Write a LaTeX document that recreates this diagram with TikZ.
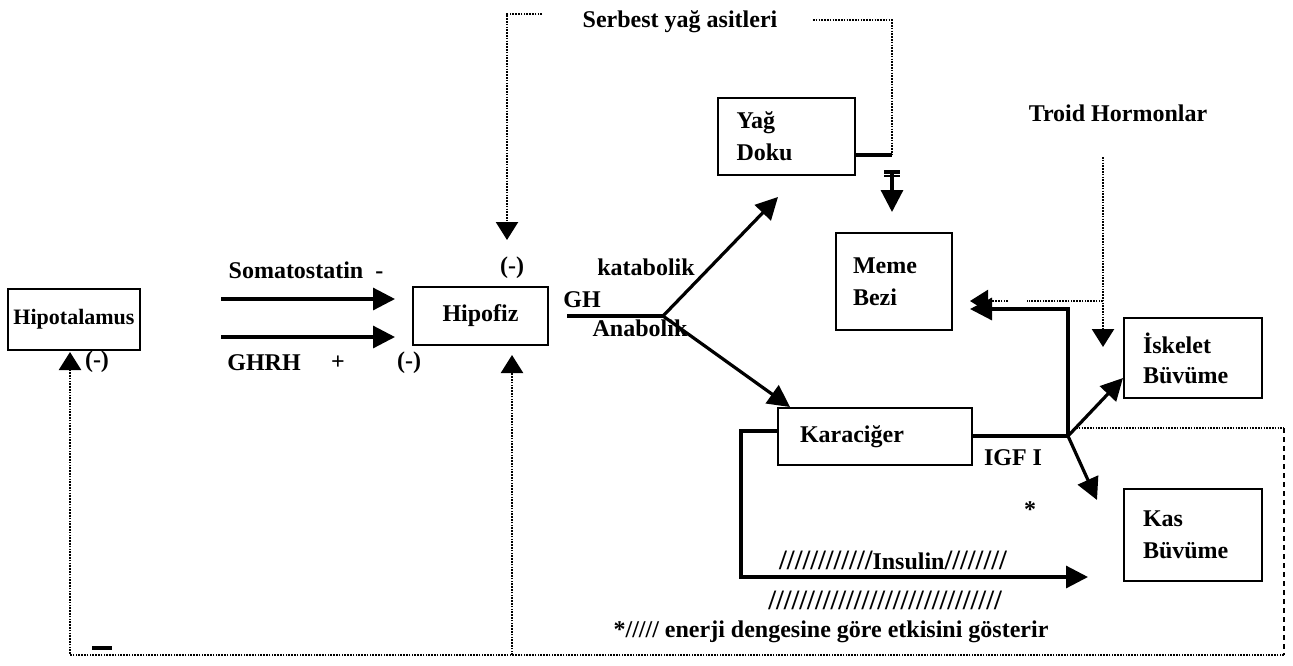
\documentclass[tikz,border=0pt]{standalone}
\usepackage{fontspec}
\setmainfont{Liberation Serif}
\usetikzlibrary{arrows.meta}
\begin{document}
\begin{tikzpicture}[x=1pt,y=-1pt,
  every node/.style={font=\fontsize{24}{26}\selectfont\bfseries, inner sep=0pt},
  box/.style={draw, line width=2.8pt, rectangle},
  box2/.style={draw, line width=2.8pt, rectangle, align=left},
  arr/.style={line width=3.2pt, -{Triangle[length=22pt,width=22pt]}},
  sline/.style={line width=3.2pt},
  dots/.style={line width=2.4pt, dash pattern=on 1.6pt off 1.2pt},
  dotarr/.style={line width=2.4pt, dash pattern=on 1.6pt off 1.2pt, -{Triangle[length=18pt,width=22pt]}},
  dashv/.style={line width=2.4pt, dash pattern=on 5pt off 4pt}]
\useasboundingbox (0,0) rectangle (1293,665);

% boxes
\node[box, minimum width=132pt, minimum height=61pt, font=\fontsize{22}{24}\selectfont\bfseries] (hipo) at (74,319.5) {Hipotalamus};
\node[box, minimum width=135pt, minimum height=58pt] (hipof) at (480.5,316) {Hipofiz};
\node[box2, minimum width=137pt, minimum height=77pt, text width=100pt] (yag) at (786.5,136.5) {Yağ\\[6pt]Doku};
\node[box2, minimum width=116pt, minimum height=97pt, text width=82pt] (meme) at (894,281.5) {Meme\\[6pt]Bezi};
\node[box2, minimum width=194pt, minimum height=57pt, text width=150pt] (kara) at (875,436.5) {Karaciğer};
\node[box2, minimum width=138pt, minimum height=80pt, text width=100pt] (isk) at (1193,358) {İskelet\\[4pt]Büvüme};
\node[box2, minimum width=138pt, minimum height=92pt, text width=100pt] (kas) at (1193,535) {Kas\\[6pt]Büvüme};

% labels
\node (somat) at (306,270) {Somatostatin\ \ -};
\node (ghrh) at (264,363) {GHRH};
\node (plus) at (338,363) {+};
\node (m1) at (409,363) {(-)};
\node (m2) at (97,362) {(-)};
\node (m3) at (512,268) {(-)};
\node (gh) at (582,300) {GH};
\node (kata) at (646,267) {katabolik};
\node (ana) at (640,328) {Anabolik};
\node (sya) at (680,22) {Serbest yağ asitleri};
\node (troid) at (1118,113) {Troid Hormonlar};
\node (igf) at (1013,458) {IGF I};
\node (star) at (1030,510) {*};
\node[font=\fontsize{28}{30}\selectfont\bfseries] (ins1) at (893,560) {////////////\fontsize{24}{26}\selectfont Insulin\fontsize{28}{30}\selectfont////////};
\node[font=\fontsize{28}{30}\selectfont\bfseries] (ins2) at (885,600) {//////////////////////////////};
\node (note) at (831,632) {*///// enerji dengesine göre etkisini gösterir};

% coordinates
\coordinate (a1s) at (221,299);
\coordinate (a1e) at (395,299);
\coordinate (a2s) at (221,337);
\coordinate (a2e) at (395,337);
\coordinate (ghs) at (567,316);
\coordinate (ghj) at (663,316);
\coordinate (yagtip) at (778,197);
\coordinate (karatip) at (790,407);
\coordinate (sf1) at (542,14);
\coordinate (sf2) at (507,14);
\coordinate (sftip) at (507,240);
\coordinate (sr1) at (813,20);
\coordinate (sr2) at (892,20);
\coordinate (sr3) at (892,155);
\coordinate (tbar) at (892,172);
\coordinate (ttip) at (892,212);
\coordinate (th1) at (1103,157);
\coordinate (th2) at (1103,301);
\coordinate (thtip) at (1103,347);
\coordinate (dm1) at (1027,301);
\coordinate (dm2) at (1008,301);
\coordinate (dmtip) at (970,301);
\coordinate (igfj) at (1068,436);
\coordinate (up1) at (1068,309);
\coordinate (memetip) at (970,309);
\coordinate (isktip) at (1123,378);
\coordinate (kastip) at (1097,500);
\coordinate (lp1) at (741,431);
\coordinate (lp2) at (741,577);
\coordinate (instip) at (1088,577);
\coordinate (db1) at (1076,428);
\coordinate (db2) at (1284,428);
\coordinate (db3) at (1284,655);
\coordinate (db4) at (70,655);
\coordinate (hipotip) at (70,352);
\coordinate (hb) at (512,655);
\coordinate (hftip) at (512,355);

% connectors
\draw[arr] (a1s) -- (a1e);
\draw[arr] (a2s) -- (a2e);
\draw[sline] (ghs) -- (ghj);
\draw[arr] (ghj) -- (yagtip);
\draw[arr] (ghj) -- (karatip);
\draw[dotarr] (sf1) -- (sf2) -- (sftip);
\draw[dots] (sr1) -- (sr2) -- (sr3);
\draw[sline] (yag.east |- sr3) -- (sr3);
\draw[sline] ([xshift=-8pt]tbar) -- ([xshift=8pt]tbar);
\draw[line width=1.4pt] ([xshift=-8pt,yshift=-4pt]tbar) -- ([xshift=8pt,yshift=-4pt]tbar);
\draw[arr] (tbar) -- (ttip);
\draw[dotarr] (th1) -- (thtip);
\draw[dots] (th2) -- (dm1);
\draw[dotarr] (dm2) -- (dmtip);
\draw[arr] (kara.east |- igfj) -- (igfj) -- (up1) -- (memetip);
\draw[arr] (igfj) -- (isktip);
\draw[arr] (igfj) -- (kastip);
\draw[arr] (kara.west |- lp1) -- (lp1) -- (lp2) -- (instip);
\draw[dots] (db1) -- (db2);
\draw[dashv] (db2) -- (db3);
\draw[dotarr] (db3) -- (db4) -- (hipotip);
\draw[dotarr] (hb) -- (hftip);
\draw[line width=4.5pt] (92,648) -- (112,648);
\end{tikzpicture}
\end{document}
